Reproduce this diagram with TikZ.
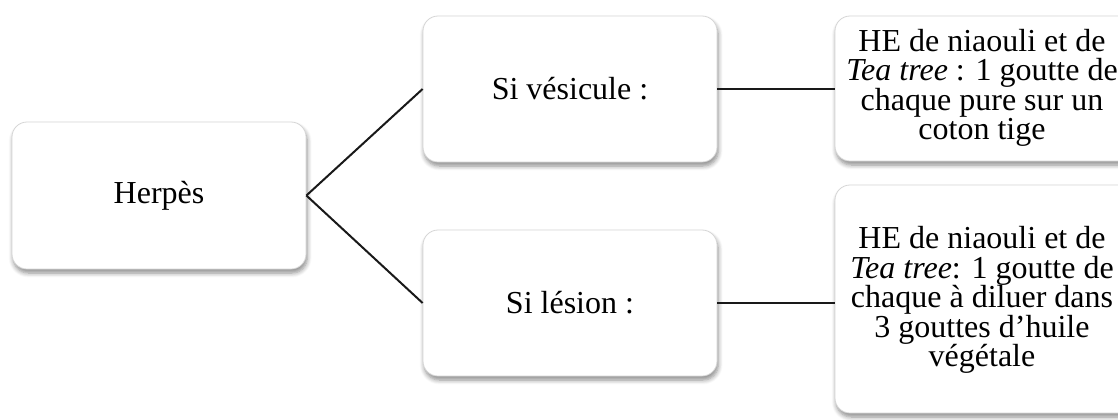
\documentclass[tikz,border=0pt]{standalone}
\usepackage{fontspec}
\setmainfont{Liberation Serif}
\usetikzlibrary{shadows.blur}
\begin{document}
\begin{tikzpicture}[x=0.5pt,y=-0.5pt,
  box/.style={draw=black!16, line width=0.4pt, fill=white, rounded corners=7.5pt,
    blur shadow={shadow xshift=0.6pt, shadow yshift=-2pt, shadow blur radius=2.2pt, shadow blur steps=6, shadow opacity=45},
    inner sep=0pt},
  lbl/.style={font=\fontsize{16pt}{14.7pt}\selectfont, align=center, inner sep=0pt, text=black},
  link/.style={draw=black!90, line width=1pt}]
\useasboundingbox (0,0) rectangle (1118,419);
\clip (0,0) rectangle (1118,419);
% boxes
\node[box, minimum width=147pt, minimum height=73.5pt] (herpes) at (159,195.5) {};
\node[box, minimum width=147pt, minimum height=73pt] (ves) at (570,89) {};
\node[box, minimum width=147pt, minimum height=73pt] (les) at (570,303) {};
\node[box, minimum width=155pt, minimum height=72.5pt] (r1) at (990,88.5) {};
\node[box, minimum width=155pt, minimum height=114pt] (r2) at (990,299) {};
% texts
\node[lbl] (herpesT) at (159,196) {Herpès};
\node[lbl] (vesT) at (570,89) {Si vésicule :};
\node[lbl] (lesT) at (570,303) {Si lésion :};
\node[lbl] (r1T) at (982,88) {HE de niaouli et de\\ \textit{Tea tree} : 1 goutte de\\ chaque pure sur un\\ coton tige};
\node[lbl] (r2T) at (982,300) {HE de niaouli et de\\ \textit{Tea tree}: 1 goutte de\\ chaque à diluer dans\\ 3 gouttes d’huile\\ végétale};
% connectors
\draw[link] (herpes.east) -- (ves.west);
\draw[link] (herpes.east) -- (les.west);
\draw[link] (ves.east) -- (ves.east -| r1.west);
\draw[link] (les.east) -- (les.east -| r2.west);
\end{tikzpicture}
\end{document}
